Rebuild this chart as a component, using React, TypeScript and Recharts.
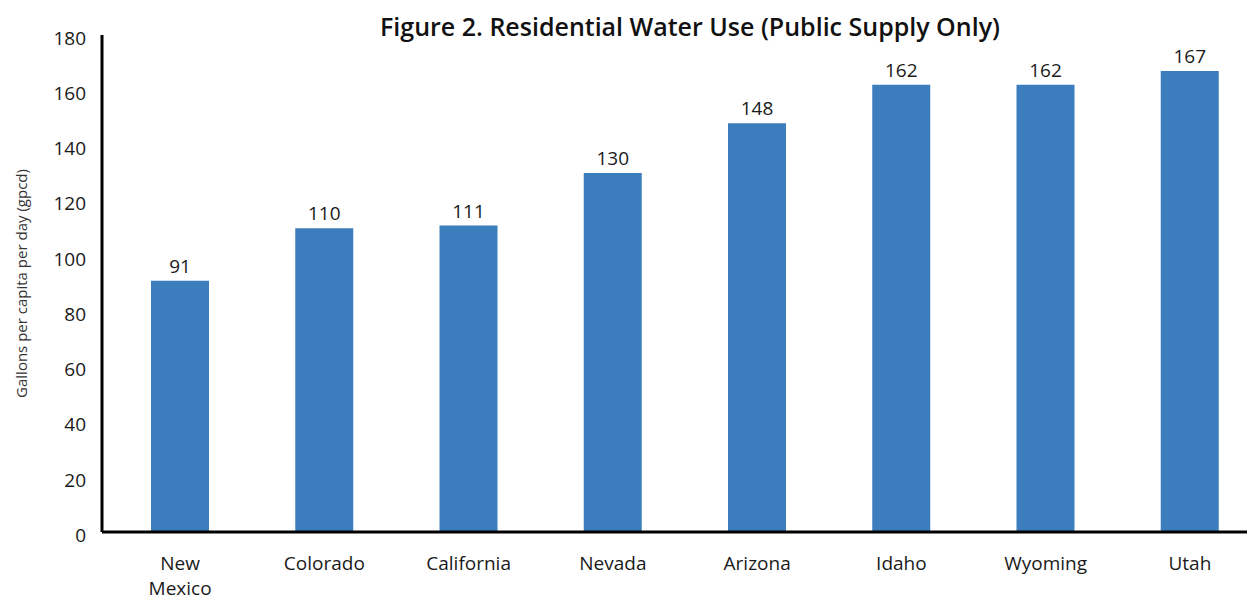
import React from 'react';
import { BarChart, Bar, XAxis, YAxis, LabelList } from 'recharts';

const states = ['New Mexico', 'Colorado', 'California', 'Nevada', 'Arizona', 'Idaho', 'Wyoming', 'Utah'];
const gpcd = [91, 110, 111, 130, 148, 162, 162, 167];
const yTicks = [0, 20, 40, 60, 80, 100, 120, 140, 160, 180];

const data = states.map((name, i) => ({ name, value: gpcd[i] }));

const FONT = '"Open Sans", "Noto Sans", sans-serif';

const StateTick = (props: any) => {
  const { x, y, payload } = props;
  const words: string[] = String(payload.value).split(' ');
  return (
    <text x={x} y={y} textAnchor="middle" fill="#1a1a1a" fontSize={19} fontFamily={FONT}>
      {words.map((w, i) => (
        <tspan key={i} x={x} dy={i === 0 ? 30 : 25}>
          {w}
        </tspan>
      ))}
    </text>
  );
};

export default function App() {
  return (
    <div
      style={{
        position: 'absolute',
        left: 0,
        top: 0,
        width: 1247,
        height: 602,
        overflow: 'hidden',
        background: '#fff',
      }}
    >
      <div
        style={{
          position: 'absolute',
          left: 0,
          width: 1380,
          top: 11,
          textAlign: 'center',
          fontFamily: FONT,
          fontWeight: 600,
          fontSize: 25,
          color: '#111',
          lineHeight: '30px',
        }}
      >
        Figure 2. Residential Water Use (Public Supply Only)
      </div>
      <BarChart
        width={1270}
        height={602}
        data={data}
        margin={{ top: 35, right: 8, bottom: 40, left: 0 }}
      >
        <XAxis
          dataKey="name"
          tick={<StateTick />}
          tickLine={false}
          axisLine={{ stroke: '#000', strokeWidth: 3 }}
          padding={{ left: 6, right: 0 }}
          interval={0}
        />
        <YAxis
          width={102}
          domain={[0, 180]}
          ticks={yTicks}
          tickLine={false}
          tickMargin={10}
          axisLine={{ stroke: '#000', strokeWidth: 3 }}
          tick={{ fill: '#1a1a1a', fontSize: 19, fontFamily: FONT, dy: 3 }}
          label={{
            value: 'Gallons per capita per day (gpcd)',
            angle: -90,
            position: 'insideLeft',
            offset: 22,
            style: { textAnchor: 'middle', fill: '#333', fontSize: 15, fontFamily: FONT },
          }}
        />
        <Bar dataKey="value" fill="#3b7dbd" barSize={58} isAnimationActive={false}>
          <LabelList
            dataKey="value"
            position="top"
            offset={8}
            fill="#1a1a1a"
            fontSize={19}
            fontFamily={FONT}
          />
        </Bar>
      </BarChart>
    </div>
  );
}
